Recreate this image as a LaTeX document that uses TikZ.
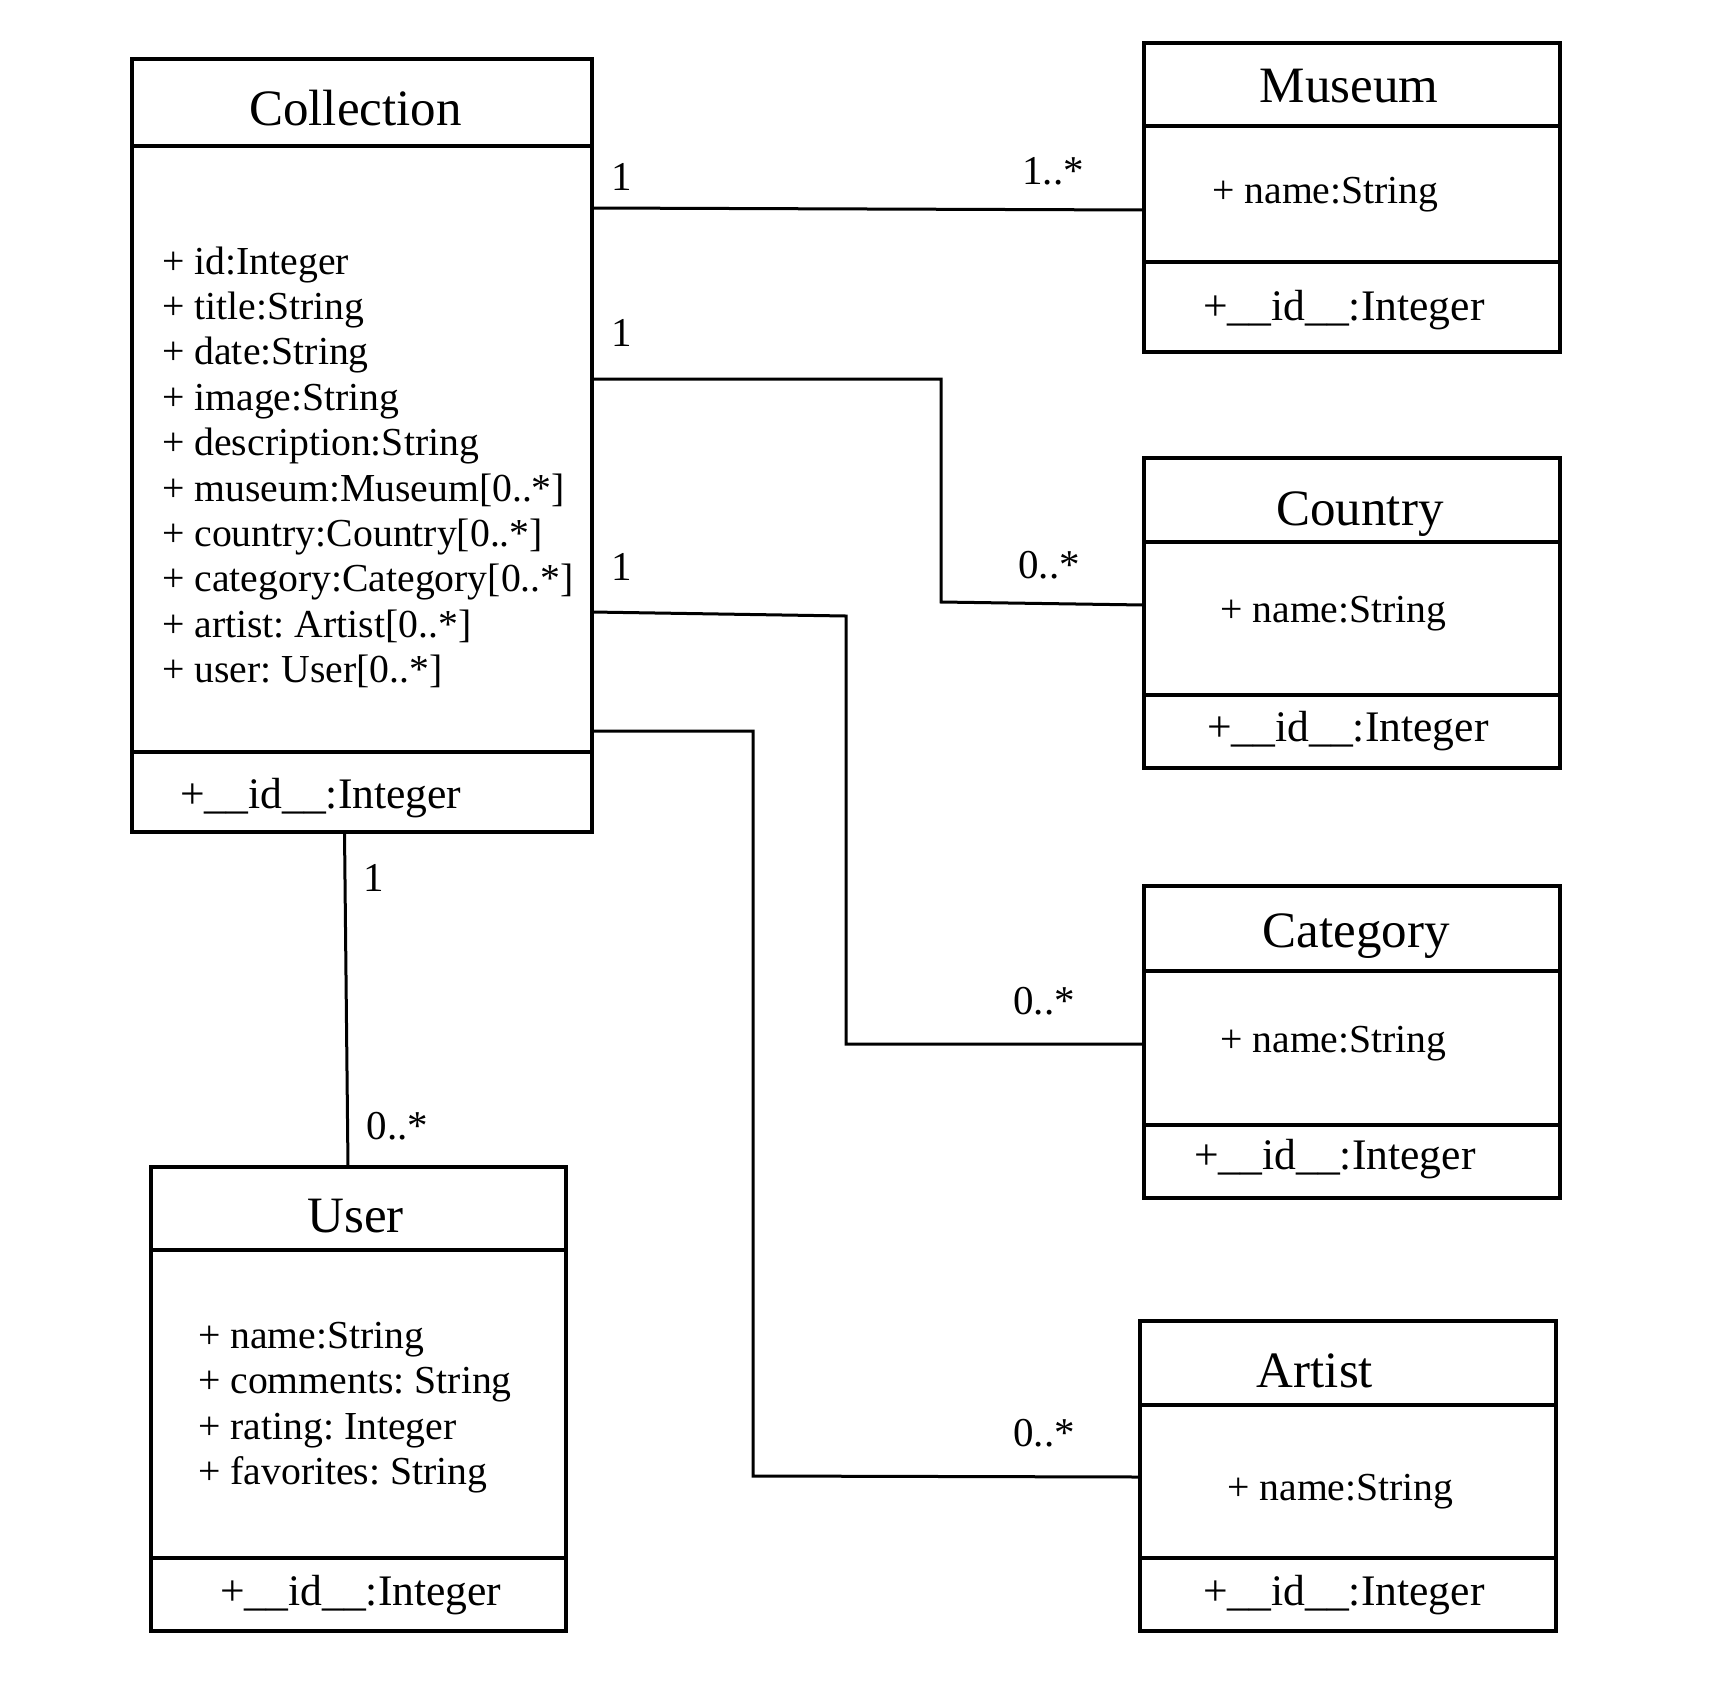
\documentclass[tikz,border=0pt]{standalone}
\usepackage{fontspec}
\setmainfont{Liberation Serif}
\frenchspacing
\begin{document}
\begin{tikzpicture}[x=1pt,y=-1pt,
  box/.style={draw, line width=3.5pt, rectangle, inner sep=0pt, outer sep=0pt},
  sepline/.style={line width=3.5pt},
  conn/.style={line width=3pt, line join=miter},
  ttl/.style={anchor=base, inner sep=0pt, font=\fontsize{51}{60}\selectfont},
  attr/.style={anchor=base west, inner sep=0pt, font=\fontsize{39.7}{45}\selectfont},
  idt/.style={anchor=base west, inner sep=0pt, font=\fontsize{43.6}{48}\selectfont},
  mult/.style={anchor=base, inner sep=0pt, font=\fontsize{41}{48}\selectfont}]
\useasboundingbox (0,0) rectangle (1731,1697);

% boxes
\node[box, minimum width=460pt, minimum height=773pt] (coll) at (362,445.5) {};
\node[box, minimum width=416pt, minimum height=309pt] (mus) at (1352,197.5) {};
\node[box, minimum width=416pt, minimum height=310pt] (cou) at (1352,613) {};
\node[box, minimum width=416pt, minimum height=312pt] (cat) at (1352,1042) {};
\node[box, minimum width=416pt, minimum height=310pt] (art) at (1348,1476) {};
\node[box, minimum width=415pt, minimum height=464pt] (usr) at (358.5,1399) {};

% compartments
\foreach \b/\h/\s in {coll/146/752, mus/126/262, cou/542/695, cat/971/1125, art/1405/1558, usr/1250/1558}{
  \draw[sepline] (\b.west |- 0,\h) -- (\b.east |- 0,\h);
  \draw[sepline] (\b.west |- 0,\s) -- (\b.east |- 0,\s);
}

% titles
\node[ttl] (tcoll) at (355.5,125) {Collection};
\node[ttl] (tmus) at (1349,102) {Museum};
\node[ttl] (tcou) at (1360,525) {Country};
\node[ttl] (tcat) at (1356,947) {Category};
\node[ttl] (tart) at (1315,1387) {Artist};
\node[ttl] (tusr) at (355.5,1232) {User};

% Collection attributes
\foreach \t [count=\i from 0] in {{+ id:Integer},{+ title:String},{+ date:String},{+ image:String},{+ description:String},{+ museum:Museum[0..*]},{+ country:Country[0..*]},{+ category:Category[0..*]},{+ artist: Artist[0..*]},{+ user: User[0..*]}}{
  \node[attr] (ca\i) at (162,274+45.4*\i) {\t};
}
\node[idt] (cid) at (180,808) {+\_\_id\_\_:Integer};

% User attributes
\foreach \t [count=\i from 0] in {{+ name:String},{+ comments: String},{+ rating: Integer},{+ favorites: String}}{
  \node[attr] (ua\i) at (198,1348+45.6*\i) {\t};
}
\node[idt] (uid) at (220,1605) {+\_\_id\_\_:Integer};

% right boxes attributes
\node[attr] (mname) at (1212,203) {+ name:String};
\node[idt] (mid) at (1203,320) {+\_\_id\_\_:Integer};
\node[attr] (kname) at (1220,622) {+ name:String};
\node[idt] (kid) at (1207,741) {+\_\_id\_\_:Integer};
\node[attr] (gname) at (1220,1052) {+ name:String};
\node[idt] (gid) at (1194,1169) {+\_\_id\_\_:Integer};
\node[attr] (aname) at (1227,1500) {+ name:String};
\node[idt] (aid) at (1203,1605) {+\_\_id\_\_:Integer};

% connectors
\draw[conn] (coll.east |- 0,208) -- (mus.west |- 0,210);
\draw[conn] (coll.east |- 0,379) -- (941,379) -- (941,602) -- (cou.west |- 0,605);
\draw[conn] (coll.east |- 0,612) -- (846,616) -- (846,1044) -- (cat.west |- 0,1044);
\draw[conn] (coll.east |- 0,731) -- (753,731) -- (753,1476) -- (art.west |- 0,1477);
\draw[conn] (coll.south -| 344.5,0) -- (usr.north -| 348,0);

% multiplicities
\node[mult] (m1a) at (621.5,190) {1};
\node[mult] (m1b) at (1053,184) {1..*};
\node[mult] (m2a) at (621.5,346) {1};
\node[mult] (m2b) at (1049,578) {0..*};
\node[mult] (m3a) at (621.5,580) {1};
\node[mult] (m3b) at (1044,1014) {0..*};
\node[mult] (m4b) at (1044,1446) {0..*};
\node[mult] (m5a) at (374,891) {1};
\node[mult] (m5b) at (397.5,1139) {0..*};
\end{tikzpicture}
\end{document}
